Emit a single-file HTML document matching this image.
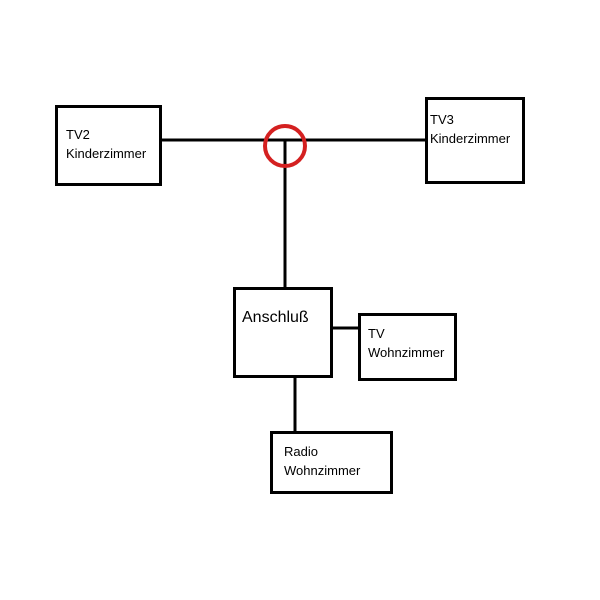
<!DOCTYPE html>
<html><head><meta charset="utf-8"><style>
body{margin:0;background:#fff;}
svg{display:block}
text{font-family:"Liberation Sans",sans-serif;fill:#000;}
</style></head><body>
<svg width="600" height="600" xmlns="http://www.w3.org/2000/svg">
<g fill="none" stroke="#000" stroke-width="3">
<rect x="56.5" y="106.5" width="104" height="78"/>
<rect x="426.5" y="98.5" width="97" height="84"/>
<rect x="234.5" y="288.5" width="97" height="88"/>
<rect x="359.5" y="314.5" width="96" height="65"/>
<rect x="271.5" y="432.5" width="120" height="60"/>
<line x1="162" y1="140" x2="425" y2="140"/>
<line x1="285" y1="140" x2="285" y2="288"/>
<line x1="333" y1="328" x2="358" y2="328"/>
<line x1="295" y1="376" x2="295" y2="432"/>
</g>
<circle cx="285" cy="146" r="20" fill="none" stroke="#d42020" stroke-width="4"/>
<text x="66" y="139" font-size="13">TV2</text>
<text x="66" y="158" font-size="13">Kinderzimmer</text>
<text x="430" y="124" font-size="13">TV3</text>
<text x="430" y="143" font-size="13">Kinderzimmer</text>
<text x="242" y="322" font-size="16">Anschluß</text>
<text x="368" y="338" font-size="13">TV</text>
<text x="368" y="357" font-size="13">Wohnzimmer</text>
<text x="284" y="456" font-size="13">Radio</text>
<text x="284" y="475" font-size="13">Wohnzimmer</text>
</svg>
</body></html>
